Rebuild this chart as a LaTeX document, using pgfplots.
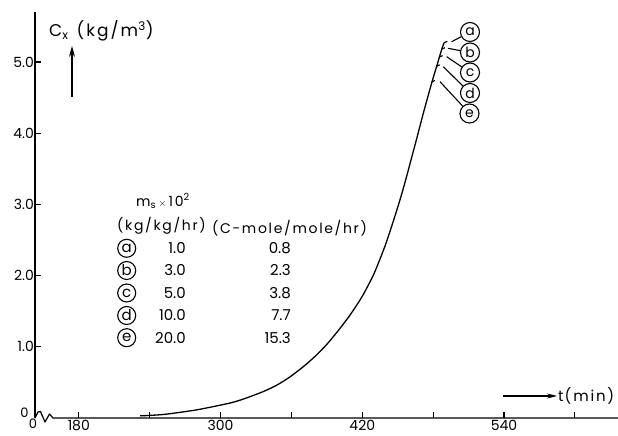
\documentclass[border=0pt]{standalone}
\usepackage{fontspec}
\setmainfont{Poppins}
\newfontfamily\lab[LetterSpace=12]{Poppins}
\usepackage{pgfplots}
\pgfplotsset{compat=1.18}
\usetikzlibrary{arrows.meta}

\pgfplotstableread{
t C
232 0.03
252 0.05
280 0.115
308 0.21
320 0.27
336 0.37
348 0.465
359 0.58
370 0.72
380 0.865
390 1.035
400 1.235
410 1.455
420 1.71
430 2.03
440 2.45
450 2.96
456 3.30
466 3.92
472 4.30
479 4.72
483 4.94
485.3 5.07
487.3 5.18
489.2 5.27
}\trunk

\begin{document}
\begin{tikzpicture}[x=1pt,y=1pt]
\begin{axis}[
  at={(0pt,0pt)}, anchor=south west,
  scale only axis, width=583pt, height=406pt,
  xmin=142.9, xmax=636.5, ymin=0, ymax=5.702,
  axis lines*=left,
  x axis line style={draw=none},
  y axis line style={line width=1.2pt},
  tick align=inside,
  major tick length=6pt,
  every tick/.style={black, line width=1.1pt},
  xtick={180,240,...,600},
  xticklabels={180,,300,,420,,540,},
  ytick={1,2,3,4,5},
  yticklabels={1.0,2.0,3.0,4.0,5.0},
  /pgf/number format/assume math mode=true,
  ticklabel style={font=\fontsize{14}{14}\selectfont},
  yticklabel style={inner sep=1pt},
  xticklabel style={inner sep=2pt},
  clip=false,
]
\addplot[line width=1.3pt, smooth, tension=0.4] table[x=t,y=C] {\trunk};
% branch ends (a..e)
\addplot[line width=1.2pt] coordinates {(478.8,4.72) (481.5,4.74)};
\addplot[line width=1.2pt] coordinates {(483,4.94) (485.5,4.96)};
\addplot[line width=1.2pt] coordinates {(485.3,5.07) (488,5.09)};
\addplot[line width=1.2pt] coordinates {(487.3,5.18) (490,5.20)};
\addplot[line width=1.2pt] coordinates {(489.2,5.27) (492,5.29)};
\end{axis}
\pgfresetboundingbox
\begin{scope}[shift={(-35pt,418pt)}, yscale=-1]
  \path[use as bounding box] (0,0) rectangle (618,436);
  % x axis with break
  \draw[line width=1.2pt, line join=round] (35,418) -- (38,412) -- (40.5,411.5) -- (45,422) -- (49.5,414) -- (53,418) -- (620,418);
  \node[font=\fontsize{13}{13}\selectfont, inner sep=0pt] at (24.5,413) {0};
  \node[font=\fontsize{13}{13}\selectfont, inner sep=0pt] at (33,424) {0};
  % y axis title
  \node[anchor=west, inner sep=0pt, font=\fontsize{17}{17}\selectfont\lab] at (49,31) {C\textsubscript{x}\hspace{8pt}(kg/m\textsuperscript{3})};
  \draw[line width=1.2pt, -{Stealth[length=11pt,width=6pt]}] (72,97) -- (72,46);
  % x axis title
  \draw[line width=1.2pt, -{Stealth[length=10pt,width=5pt]}] (503,396) -- (557,396);
  \node[anchor=west, inner sep=0pt, font=\fontsize{15}{15}\selectfont\lab] at (558,396) {t\hspace{1pt}(min)};
  % curve labels
  \begin{scope}[every node/.style={circle, draw, line width=1.1pt, minimum size=19pt, inner sep=0pt, fill=white, font=\fontsize{14}{14}\selectfont}]
    \node (ca) at (470,32) {a};
    \node (cb) at (470,52.5) {b};
    \node (cc) at (470,72.5) {c};
    \node (cd) at (470,93) {d};
    \node (ce) at (469.5,113.5) {e};
  \end{scope}
  \draw[line width=1.1pt] (451.7,41.7) -- (ca);
  \draw[line width=1.1pt] (448,48.3) -- (cb);
  \draw[line width=1.1pt] (446.7,56.7) -- (cc);
  \draw[line width=1.1pt] (443.3,66.7) -- (cd);
  \draw[line width=1.1pt] (440,81.7) -- (ce);
  % table
  \begin{scope}[every node/.style={inner sep=0pt, font=\fontsize{14}{14}\selectfont\lab}]
    \node at (163,201) {m\textsubscript{s}\,{\fontsize{10}{10}\selectfont$\times$}\,10\textsuperscript{2}};
    \node at (161.5,226) {(kg/kg/hr)};
    \node at (289.5,228) {(C-mole/mole/hr)};
  \end{scope}
  \begin{scope}[every node/.style={inner sep=0pt, font=\fontsize{15}{15}\selectfont}]
    \foreach \l/\y/\u/\v in {a/248.3/1.0/0.8, b/270.5/3.0/2.3, c/293/5.0/3.8, d/315.5/10.0/7.7, e/337.7/20.0/15.3}{
      \node[circle, draw, line width=1.1pt, minimum size=18pt] at (126.7,\y) {\l};
      \node[anchor=east] at (186,\y) {\u};
      \node[anchor=east] at (291,\y) {\v};
    }
  \end{scope}
\end{scope}
\end{tikzpicture}
\end{document}
